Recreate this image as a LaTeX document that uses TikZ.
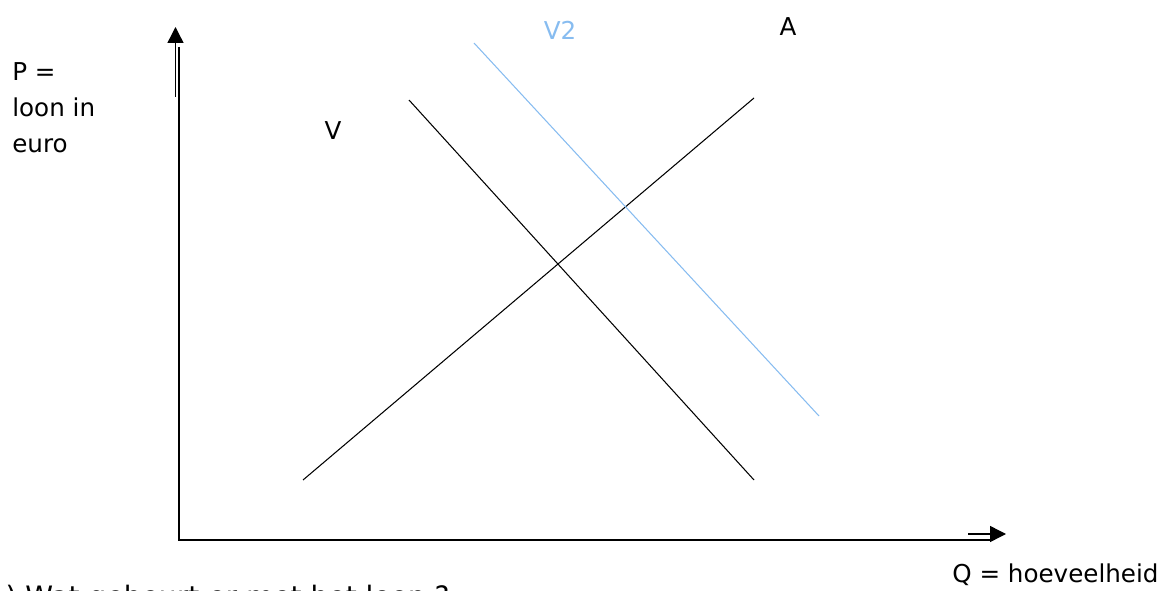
\documentclass[tikz,border=0pt]{standalone}
\usepackage{fontspec}
\setmainfont{DejaVu Sans}
\usetikzlibrary{arrows.meta}
\definecolor{vtwoblue}{RGB}{135,188,240}
\tikzset{
  lbl/.style={inner sep=0pt,font=\fontsize{14}{20.5}\selectfont},
  curve/.style={line width=0.6pt},
  axis/.style={line width=1.7pt},
  axistip/.style={line width=0.8pt,-{Triangle[length=9pt,width=9pt]}}
}
\begin{document}
\begin{tikzpicture}[x=0.02cm,y=-0.02cm]
  \useasboundingbox (0,0) rectangle (1163,591);
  % assen
  \coordinate (O) at (179,540);
  \coordinate (ytop) at (179,47);
  \coordinate (xend) at (992,540);
  \draw[axis] (ytop) -- (O) -- (xend);
  \coordinate (yarr0) at (175.5,97);
  \coordinate (yarr1) at (175.5,27);
  \coordinate (xarr0) at (968,534);
  \coordinate (xarr1) at (1006,534);
  \draw[axistip] (yarr0) -- (yarr1);
  \draw[axistip] (xarr0) -- (xarr1);
  % lijnen
  \coordinate (V0) at (409,100);
  \coordinate (V1) at (754,480);
  \coordinate (A0) at (303,480);
  \coordinate (A1) at (754,98);
  \coordinate (W0) at (474,43);
  \coordinate (W1) at (819,416);
  \draw[curve] (V0) -- (V1);
  \draw[curve] (A0) -- (A1);
  \draw[curve,vtwoblue] (W0) -- (W1);
  % teksten
  \node[lbl,anchor=north west,align=left] (Plab) at (12,62) {P =\\loon in\\euro};
  \node[lbl] (Vlab) at (333,131) {V};
  \node[lbl,text=vtwoblue] (V2lab) at (560,30) {V2};
  \node[lbl] (Alab) at (788,27) {A};
  \node[lbl,anchor=base west] (Qlab) at (952,582) {Q = hoeveelheid};
  \node[lbl,anchor=base west,font=\fontsize{16}{20}\selectfont] (vraag) at (-12,606) {a) Wat gebeurt er met het loon ?};
\end{tikzpicture}
\end{document}
